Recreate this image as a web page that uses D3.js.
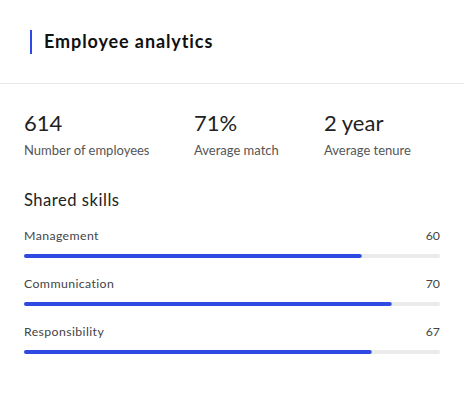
<!DOCTYPE html>
<html>
<head>
<meta charset="utf-8">
<script src="https://cdn.jsdelivr.net/npm/d3@7"></script>
<style>
  html, body { margin: 0; padding: 0; background: #fff; }
  svg { display: block; font-family: Lato, "Open Sans", sans-serif; }
</style>
</head>
<body>
<div id="chart"></div>
<script>
// ---- data ----
const title = "Employee analytics";
const statValues = ["614", "71%", "2 year"];
const statLabels = ["Number of employees", "Average match", "Average tenure"];
const sectionTitle = "Shared skills";
const skills = ["Management", "Communication", "Responsibility"];
const skillValues = [60, 70, 67];
const skillBarPct = [81.2, 88.4, 83.6];   // bar fill (% of track)
const barDomain = [0, 100];

// ---- layout ----
const W = 464, H = 394;
const left = 24, right = 440;
const blue = "#2f4ae3";

const svg = d3.select("#chart").append("svg")
  .attr("width", W).attr("height", H);

svg.append("rect").attr("width", W).attr("height", H).attr("fill", "#fff");

// header
svg.append("rect").attr("x", 30).attr("y", 30).attr("width", 2).attr("height", 24).attr("fill", blue);
svg.append("text").attr("x", 44).attr("y", 48)
  .attr("font-size", 18).attr("font-weight", 700).attr("fill", "#111")
  .attr("letter-spacing", 0.9)
  .text(title);
svg.append("line").attr("x1", 0).attr("x2", W).attr("y1", 83.5).attr("y2", 83.5)
  .attr("stroke", "#e8e8e8").attr("stroke-width", 1);

// stats
const statX = d3.scaleOrdinal().domain(statLabels).range([24, 194, 324]);
const stats = svg.selectAll("g.stat").data(statLabels.map((l, i) => ({label: l, value: statValues[i]})))
  .join("g").attr("class", "stat")
  .attr("transform", d => `translate(${statX(d.label)},0)`);
stats.append("text").attr("y", 131).attr("font-size", 22).attr("fill", "#222").text(d => d.value);
stats.append("text").attr("y", 154.5).attr("font-size", 13).attr("fill", "#555").text(d => d.label);

// section title
svg.append("text").attr("x", 24).attr("y", 206).attr("font-size", 16.6).attr("fill", "#222")
  .attr("letter-spacing", 0.5).text(sectionTitle);

// skill bars
const x = d3.scaleLinear().domain(barDomain).range([left, right]);
const y = d3.scalePoint().domain(skills).range([240, 336]);

const rows = svg.selectAll("g.skill").data(skills.map((s, i) => ({name: s, value: skillValues[i], pct: skillBarPct[i]})))
  .join("g").attr("class", "skill")
  .attr("transform", d => `translate(0,${y(d.name)})`);

rows.append("text").attr("x", left).attr("y", 0).attr("font-size", 12.3).attr("letter-spacing", 0.4)
  .attr("fill", "#444").text(d => d.name);
rows.append("text").attr("x", right).attr("y", 0).attr("text-anchor", "end")
  .attr("font-size", 12.3).attr("fill", "#444").text(d => d.value);
rows.append("rect").attr("x", x(barDomain[0])).attr("y", 14)
  .attr("width", x(barDomain[1]) - x(barDomain[0])).attr("height", 4).attr("rx", 2)
  .attr("fill", "#ebebeb");
rows.append("rect").attr("x", x(barDomain[0])).attr("y", 14)
  .attr("width", d => x(d.pct) - x(barDomain[0])).attr("height", 4).attr("rx", 2)
  .attr("fill", blue);
</script>
</body>
</html>
